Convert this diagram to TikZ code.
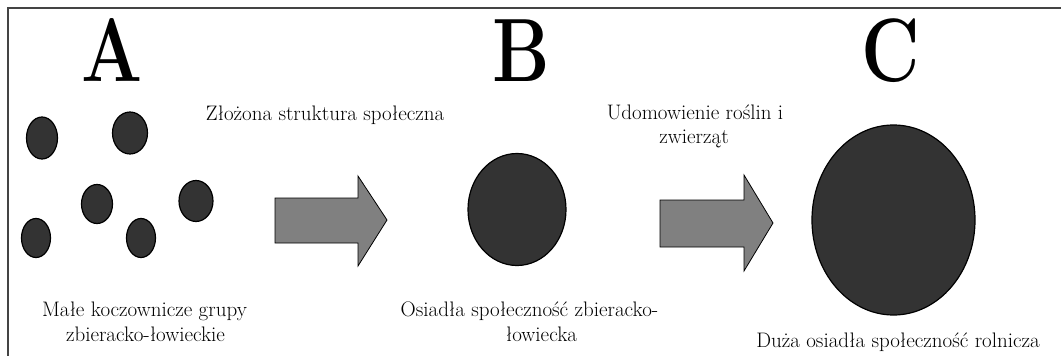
\documentclass[tikz,border=0pt]{standalone}
\usepackage{fontspec}
\newcommand{\narrow}[1]{\scalebox{0.8}[1]{#1}}
\definecolor{blob}{HTML}{333333}
\definecolor{arrowgray}{HTML}{808080}
\definecolor{frame}{HTML}{444444}
\begin{document}
\begin{tikzpicture}[x=1pt,y=-1pt,
  blobstyle/.style={draw=black,line width=1.2pt,fill=blob},
  bigarrow/.style={draw=black,line width=0.8pt,fill=arrowgray},
  letter/.style={anchor=base,inner sep=0pt,font=\rmfamily\bfseries\fontsize{90}{90}\selectfont},
  lbl/.style={anchor=base,inner sep=0pt,font=\rmfamily\fontsize{21}{24}\selectfont}]
\useasboundingbox (0,0) rectangle (1061,356);
\draw[frame,line width=1.6pt] (8,360) -- (8,8) -- (1065,8);
% letters
\node[letter] (A) at (112.5,81) {\narrow{A}};
\node[letter] (B) at (521,81) {\narrow{B}};
\node[letter] (C) at (890.5,81) {\narrow{C}};
% small groups
\draw[blobstyle] (42,138) ellipse [x radius=15.5, y radius=21];
\draw[blobstyle] (130,133) ellipse [x radius=17.5, y radius=21];
\draw[blobstyle] (97,204) ellipse [x radius=15.5, y radius=19.5];
\draw[blobstyle] (196,201) ellipse [x radius=17, y radius=20.5];
\draw[blobstyle] (36,238) ellipse [x radius=14.5, y radius=19.5];
\draw[blobstyle] (141,238) ellipse [x radius=14.5, y radius=19.5];
% B and C
\draw[blobstyle] (517,209.5) ellipse [x radius=49, y radius=56];
\draw[blobstyle] (893.5,220) ellipse [x radius=81.5, y radius=95];
% arrows
\draw[bigarrow] (275,198) -- (358,198) -- (358,176) -- (387,220) -- (358,266) -- (358,243) -- (275,243) -- cycle;
\draw[bigarrow] (660,200) -- (744,200) -- (744,175) -- (773,223) -- (744,271) -- (744,247) -- (660,247) -- cycle;
% labels
\node[lbl] (t1) at (325,120) {Złożona struktura społeczna};
\node[lbl] (t2a) at (695,119) {Udomowienie roślin i};
\node[lbl] (t2b) at (694,143) {zwierząt};
\node[lbl] (la1) at (144.5,316) {Małe koczownicze grupy};
\node[lbl] (la2) at (145.5,341) {zbieracko-łowieckie};
\node[lbl] (lb1) at (529.5,316) {Osiadła społeczność zbieracko-};
\node[lbl] (lb2) at (541.5,341) {łowiecka};
\node[lbl] (lc) at (898,347) {Duża osiadła społeczność rolnicza};
\end{tikzpicture}
\end{document}
